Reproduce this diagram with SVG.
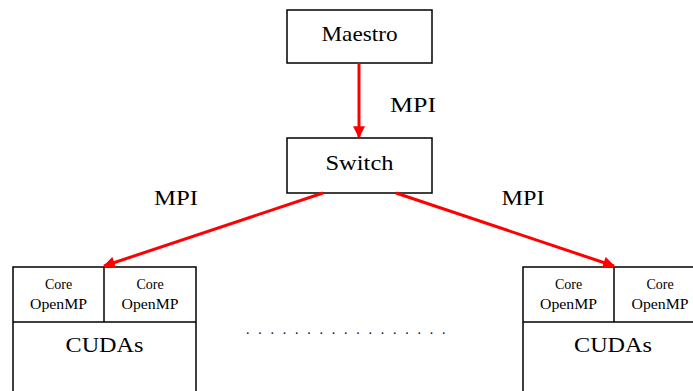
<svg xmlns="http://www.w3.org/2000/svg" width="693" height="391" viewBox="0 0 693 391">
<style>
.box{fill:#fff;stroke:#000;stroke-width:1.5}
.ln{stroke:#000;stroke-width:1.5;fill:none}
.t{font-family:"Liberation Serif","Times New Roman",serif;font-size:22px;fill:#000;text-anchor:middle}
.s{font-family:"Liberation Serif","Times New Roman",serif;font-size:14px;fill:#000;text-anchor:middle}
.c{stroke:#ff0000;stroke-width:3;fill:none}
</style>
<defs>
<marker id="ah" viewBox="0 0 10 10" refX="9" refY="5" markerWidth="4.8" markerHeight="4" markerUnits="strokeWidth" orient="auto">
<path d="M0,0 L10,5 L0,10 z" fill="#ff0000"/>
</marker>
</defs>
<rect width="693" height="391" fill="#fff"/>
<g id="maestro">
<rect class="box" x="287" y="10" width="145" height="53"/>
<text class="t" x="359.5" y="41" textLength="76" lengthAdjust="spacingAndGlyphs">Maestro</text>
</g>
<g id="switch">
<rect class="box" x="287" y="138" width="145" height="55"/>
<text class="t" x="359.5" y="170" textLength="68" lengthAdjust="spacingAndGlyphs">Switch</text>
</g>
<g id="node-left">
<rect class="box" x="13" y="267" width="183" height="140"/>
<line class="ln" x1="13" y1="322" x2="196" y2="322"/>
<line class="ln" x1="104" y1="267" x2="104" y2="322"/>
<text class="s" x="58.5" y="289">Core</text>
<text class="s" x="58.5" y="309" textLength="57" lengthAdjust="spacingAndGlyphs">OpenMP</text>
<text class="s" x="150" y="289">Core</text>
<text class="s" x="150" y="309" textLength="57" lengthAdjust="spacingAndGlyphs">OpenMP</text>
<text class="t" x="104.5" y="352" textLength="78" lengthAdjust="spacingAndGlyphs">CUDAs</text>
</g>
<g id="node-right">
<rect class="box" x="523" y="267" width="183" height="140"/>
<line class="ln" x1="523" y1="322" x2="706" y2="322"/>
<line class="ln" x1="614" y1="267" x2="614" y2="322"/>
<text class="s" x="568.5" y="289">Core</text>
<text class="s" x="568.5" y="309" textLength="57" lengthAdjust="spacingAndGlyphs">OpenMP</text>
<text class="s" x="660" y="289">Core</text>
<text class="s" x="660" y="309" textLength="57" lengthAdjust="spacingAndGlyphs">OpenMP</text>
<text class="t" x="613" y="352" textLength="78" lengthAdjust="spacingAndGlyphs">CUDAs</text>
</g>
<g id="dots">
<text x="246" y="334" font-family="Liberation Serif, serif" font-size="14" fill="#000" letter-spacing="8.75">.................</text>
</g>
<g id="connectors">
<line class="c" x1="359" y1="63" x2="359" y2="137" marker-end="url(#ah)"/>
<line class="c" x1="323" y1="193" x2="104" y2="266" marker-end="url(#ah)"/>
<line class="c" x1="396" y1="193" x2="614" y2="266" marker-end="url(#ah)"/>
</g>
<g id="labels">
<text class="t" x="413" y="112" textLength="46" lengthAdjust="spacingAndGlyphs">MPI</text>
<text class="t" x="176" y="205" textLength="44" lengthAdjust="spacingAndGlyphs">MPI</text>
<text class="t" x="523" y="205" textLength="43" lengthAdjust="spacingAndGlyphs">MPI</text>
</g>
</svg>
